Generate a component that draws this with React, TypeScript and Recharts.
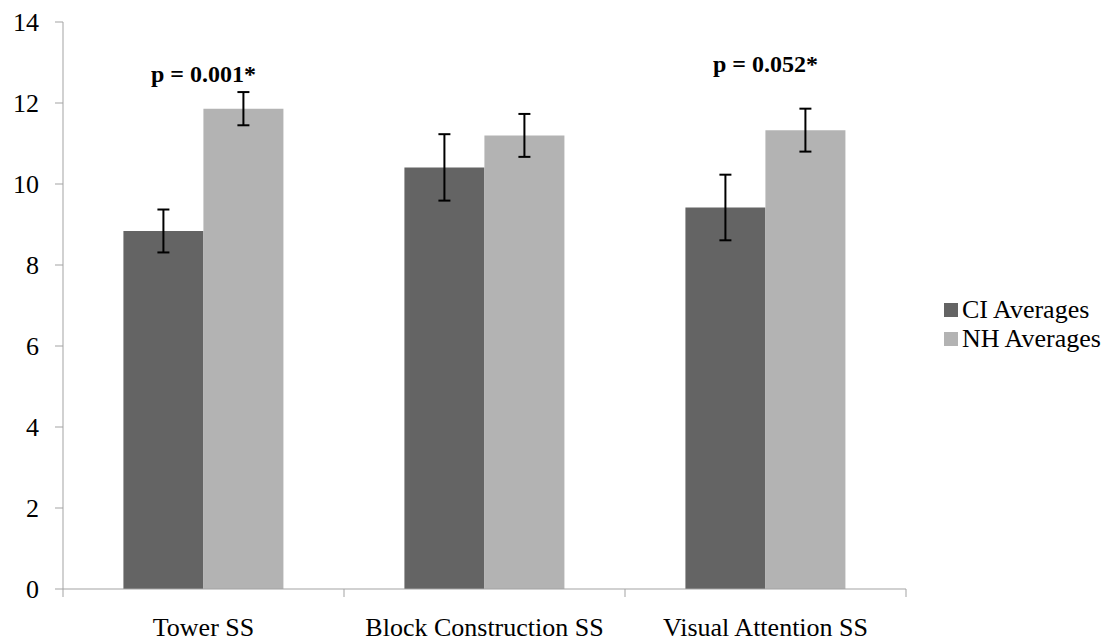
import {
  Bar,
  BarChart,
  ErrorBar,
  Legend,
  ReferenceDot,
  XAxis,
  YAxis,
} from "recharts";

const categories = ["Tower SS", "Block Construction SS", "Visual Attention SS"];
const ciAverages = [8.84, 10.41, 9.42];
const ciErrors = [0.53, 0.82, 0.81];
const nhAverages = [11.86, 11.2, 11.33];
const nhErrors = [0.41, 0.53, 0.53];
const yTicks = [0, 2, 4, 6, 8, 10, 12, 14];

// significance notes, anchored at a y value above each pair
const pNotes = [
  { category: "Tower SS", text: "p = 0.001*", level: 12.72 },
  { category: "Visual Attention SS", text: "p = 0.052*", level: 12.97 },
];

const data = categories.map((name, i) => ({
  name,
  ci: ciAverages[i],
  ciErr: ciErrors[i],
  nh: nhAverages[i],
  nhErr: nhErrors[i],
}));

const FONT = "'Liberation Serif', 'Times New Roman', serif";
const AXIS = "#a3a3a3";
const CI_COLOR = "#646464";
const NH_COLOR = "#b3b3b3";

function CategoryTick(props: any) {
  const { x, y, payload, index } = props;
  const half = payload?.offset ?? 140.5;
  return (
    <g>
      <line x1={x - half} y1={y} x2={x - half} y2={y + 8} stroke={AXIS} />
      {index === categories.length - 1 && (
        <line x1={x + half} y1={y} x2={x + half} y2={y + 8} stroke={AXIS} />
      )}
      <text
        x={x}
        y={y + 47}
        textAnchor="middle"
        fontFamily={FONT}
        fontSize={26}
        fill="#000"
      >
        {payload.value}
      </text>
    </g>
  );
}

function LegendBox(props: any) {
  const items = props.payload ?? [];
  return (
    <div style={{ fontFamily: FONT, fontSize: 26, color: "#000" }}>
      {items.map((it: any) => (
        <div
          key={it.value}
          style={{ display: "flex", alignItems: "center", height: 29 }}
        >
          <span
            style={{
              width: 14,
              height: 14,
              background: it.color,
              marginRight: 4,
              display: "inline-block",
            }}
          />
          <span>{it.value}</span>
        </div>
      ))}
    </div>
  );
}

export default function App() {
  return (
    <div style={{ position: "absolute", left: 0, top: 0, background: "#fff" }}>
      <BarChart
        width={1112}
        height={642}
        data={data}
        margin={{ top: 22, right: 38, bottom: 0, left: 0 }}
        barCategoryGap="21.5%"
        barGap={0}
      >
        <YAxis
          width={63}
          domain={[0, 14]}
          ticks={yTicks}
          interval={0}
          stroke={AXIS}
          tickSize={8}
          tickMargin={16}
          tick={{ fill: "#000", fontFamily: FONT, fontSize: 26 }}
        />
        <XAxis
          dataKey="name"
          height={53}
          stroke={AXIS}
          tickLine={false}
          tickSize={0}
          tickMargin={0}
          interval={0}
          tick={<CategoryTick />}
        />
        <Legend
          layout="vertical"
          align="right"
          verticalAlign="middle"
          content={<LegendBox />}
          wrapperStyle={{ left: 944, top: 295, width: 168 }}
        />
        <Bar dataKey="ci" name="CI Averages" fill={CI_COLOR} isAnimationActive={false}>
          <ErrorBar dataKey="ciErr" width={6} strokeWidth={2} stroke="#000" direction="y" />
        </Bar>
        <Bar dataKey="nh" name="NH Averages" fill={NH_COLOR} isAnimationActive={false}>
          <ErrorBar dataKey="nhErr" width={6} strokeWidth={2} stroke="#000" direction="y" />
        </Bar>
        {pNotes.map((n) => (
          <ReferenceDot
            key={n.category}
            x={n.category}
            y={n.level}
            r={0}
            stroke="none"
            label={(p: any) => (
              <text
                x={p.viewBox.x}
                y={p.viewBox.y}
                textAnchor="middle"
                dominantBaseline="central"
                fontFamily={FONT}
                fontWeight="bold"
                fontSize={24}
                fill="#000"
              >
                {n.text}
              </text>
            )}
          />
        ))}
      </BarChart>
    </div>
  );
}
